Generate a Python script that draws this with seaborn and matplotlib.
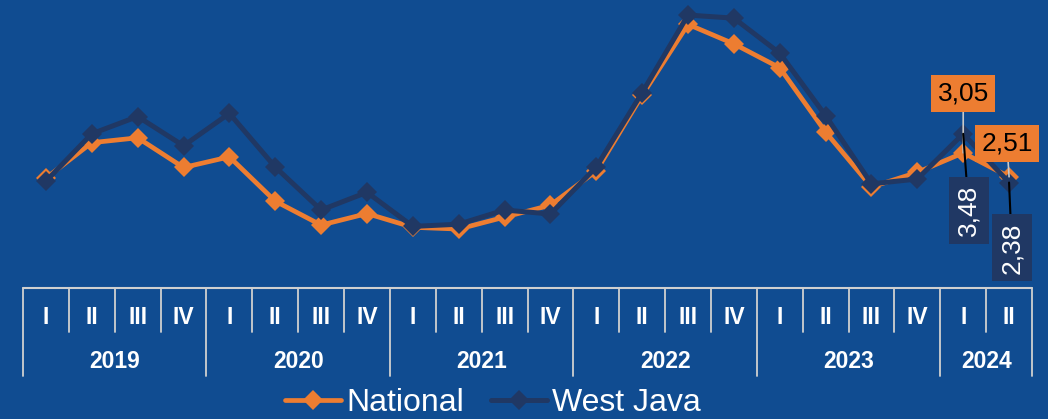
import matplotlib
matplotlib.use("Agg")
import matplotlib.pyplot as plt
import matplotlib.transforms as mtransforms
from matplotlib.lines import Line2D
import seaborn as sns
import numpy as np

# ---- data ----
quarters = ["I", "II", "III", "IV"] * 5 + ["I", "II"]
years = ["2019", "2020", "2021", "2022", "2023", "2024"]
year_quarter_counts = [4, 4, 4, 4, 4, 2]
national = [2.48, 3.28, 3.39, 2.72, 2.96, 1.96, 1.42, 1.68, 1.37, 1.33, 1.60,
            1.87, 2.64, 4.35, 5.95, 5.51, 4.97, 3.52, 2.28, 2.61, 3.05, 2.51]
west_java = [2.41, 3.48, 3.87, 3.21, 3.94, 2.73, 1.76, 2.16, 1.39, 1.44, 1.76,
             1.67, 2.73, 4.41, 6.16, 6.09, 5.30, 3.89, 2.35, 2.46, 3.48, 2.38]
series_names = ["National", "West Java"]
label_national = ["3,05", "2,51"]
label_west_java = ["3,48", "2,38"]

BG = "#104C91"
ORANGE = "#ED7D31"
NAVY = "#203864"
GRID = "#D0D0D0"

sns.set_theme(style="white")
plt.rcParams["font.family"] = ["Liberation Sans", "DejaVu Sans"]

fig = plt.figure(figsize=(10.48, 4.19), dpi=100, facecolor=BG)
W, H = 1048, 419
ax_h_px = 288
ax = fig.add_axes([23 / W, (H - 288) / H, (1032 - 23) / W, ax_h_px / H])
ax.set_facecolor(BG)

x = np.arange(len(quarters))
sns.lineplot(x=x, y=national, ax=ax, color=ORANGE, lw=3.4, marker="D",
             markersize=10, markeredgewidth=0, label=series_names[0], legend=False)
sns.lineplot(x=x, y=west_java, ax=ax, color=NAVY, lw=3.6, marker="D",
             markersize=10.5, markeredgewidth=0, label=series_names[1], legend=False)

ax.set_xlim(-0.5, len(quarters) - 0.5)
ax.set_ylim(0, 6.5)
for s in ax.spines.values():
    s.set_visible(False)
ax.set_xticks([])
ax.set_yticks([])
ax.set_xlabel("")
ax.set_ylabel("")

# ---- multi-level category axis ----
trans = mtransforms.blended_transform_factory(ax.transData, ax.transAxes)
q_depth = 44 / ax_h_px
y_depth = 88 / ax_h_px
ax.plot([-0.5, len(quarters) - 0.5], [0, 0], transform=trans, color=GRID,
        lw=1.5, clip_on=False)
year_bounds = set(np.cumsum([0] + year_quarter_counts))
for i in range(len(quarters) + 1):
    d = y_depth if i in year_bounds else q_depth
    ax.plot([i - 0.5, i - 0.5], [0, -d], transform=trans, color=GRID,
            lw=1.3, clip_on=False)
for i, q in enumerate(quarters):
    ax.text(i, -30 / ax_h_px, q, transform=trans, ha="center", va="center",
            color="white", fontsize=16.5, fontweight="bold")
start = 0
for yr, n in zip(years, year_quarter_counts):
    ax.text(start + (n - 1) / 2, -73 / ax_h_px, yr, transform=trans,
            ha="center", va="center", color="white", fontsize=16.5,
            fontweight="bold")
    start += n

# ---- data labels ----
last = len(quarters) - 2
nat_offsets = [(0, 43), (-1.5, 24)]
wj_offsets = [(4, -55), (2, -47)]
for k in range(2):
    idx = last + k
    ax.annotate(label_national[k], xy=(idx, national[idx]),
                xytext=nat_offsets[k], textcoords="offset points",
                ha="center", va="center", fontsize=19, color="black",
                bbox=dict(boxstyle="square,pad=0.25", fc=ORANGE, ec="none"),
                arrowprops=dict(arrowstyle="-", color="#C8C8C8", lw=1.2,
                                shrinkA=0, shrinkB=0))
    ax.annotate(label_west_java[k], xy=(idx, west_java[idx]),
                xytext=wj_offsets[k], textcoords="offset points",
                ha="center", va="center", fontsize=19, color="white",
                rotation=90,
                bbox=dict(boxstyle="square,pad=0.3", fc=NAVY, ec="none"),
                arrowprops=dict(arrowstyle="-", color="black", lw=1.5,
                                shrinkA=0, shrinkB=0))

# ---- legend ----
handles = [Line2D([], [], color=ORANGE, lw=3.4, marker="D", markersize=10,
                  markeredgewidth=0),
           Line2D([], [], color=NAVY, lw=3.6, marker="D", markersize=10.5,
                  markeredgewidth=0)]
leg = fig.legend(handles, series_names, loc="center",
                 bbox_to_anchor=(493 / W, 1 - 403 / H), ncol=2, frameon=False,
                 fontsize=23, handlelength=1.75, handletextpad=0.15,
                 columnspacing=0.85, borderpad=0)
for t in leg.get_texts():
    t.set_color("white")

fig.savefig("out.png", dpi=100, facecolor=BG)
